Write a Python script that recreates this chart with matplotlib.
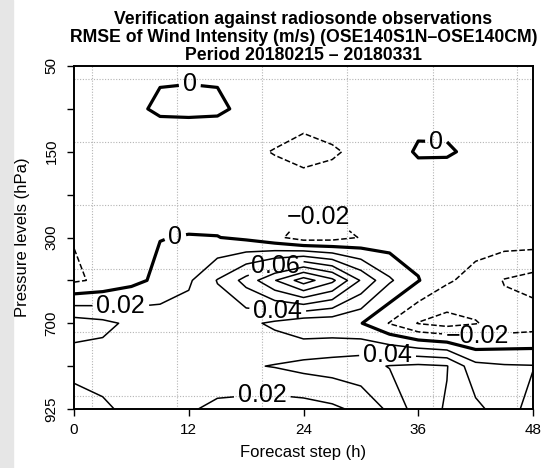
import numpy as np
import matplotlib
matplotlib.use('Agg')
import matplotlib.pyplot as plt

plt.rcParams['font.family'] = ['Liberation Sans', 'DejaVu Sans']

# forecast steps (h) and pressure levels (hPa), top to bottom
steps = list(range(0, 49, 3))
levels_hpa = [50, 100, 150, 200, 300, 500, 700, 850, 925]
tick_steps = [0, 12, 24, 36, 48]

# RMSE difference (m/s), one list per pressure level, one value per step
rmse_50 = [-0.004, -0.005, -0.006, -0.003, -0.003, -0.003, -0.006, -0.007, -0.008,
           -0.007, -0.006, -0.006, -0.005, -0.005, -0.004, -0.004, -0.003]
rmse_100 = [-0.004, -0.004, -0.004, 0.003, 0.004, 0.003, -0.004, -0.008, -0.012,
            -0.01, -0.008, -0.007, -0.006, -0.005, -0.005, -0.004, -0.004]
rmse_150 = [-0.006, -0.007, -0.009, -0.014, -0.016, -0.015, -0.016, -0.021, -0.026,
            -0.022, -0.016, -0.008, 0.002, 0.0015, -0.003, -0.004, -0.004]
rmse_200 = [-0.01, -0.008, -0.005, -0.005, -0.012, -0.012, -0.008, -0.009, -0.01,
            -0.011, -0.009, -0.009, -0.012, -0.01, -0.007, -0.006, -0.006]
rmse_300 = [-0.019, -0.012, -0.006, -0.0005, 0.001, 0.0005, -0.004, -0.015, -0.03,
            -0.028, -0.019, -0.013, -0.009, -0.009, -0.01, -0.01, -0.0095]
rmse_500 = [-0.023, -0.016, -0.006, 0.005, 0.017, 0.041, 0.067, 0.099, 0.13,
            0.105, 0.058, 0.023, 0.001, -0.017, -0.028, -0.041, -0.047]
rmse_700 = [0.05, 0.045, 0.036, 0.032, 0.03, 0.028, 0.025, 0.016, 0.005,
            0.005, 0.001, -0.021, -0.041, -0.048, -0.041, -0.033, -0.03]
rmse_850 = [0.028, 0.03, 0.031, 0.031, 0.03, 0.032, 0.038, 0.041, 0.046,
            0.049, 0.053, 0.061, 0.064, 0.061, 0.026, 0.022, 0.021]
rmse_925 = [0.008, 0.016, 0.026, 0.028, 0.022, 0.016, 0.012, 0.01, 0.011,
            0.016, 0.025, 0.044, 0.07, 0.058, 0.045, 0.03, 0.012]

contour_levels = [-0.04, -0.02, 0.0, 0.02, 0.04, 0.06, 0.08, 0.10, 0.12]

# where the contour labels sit (hour, level index), per contour level
label_spots = {
    0.0: [(10.6, 4.0), (12.1, 0.45), (37.9, 1.5)],
    0.02: [(4.9, 5.6), (19.7, 7.8)],
    0.04: [(21.3, 5.7), (32.8, 6.9)],
    0.06: [(21.1, 4.7)],
    -0.02: [(25.5, 3.7), (42.2, 6.3)],
}

grid_x = [1.9, 10.8, 19.7, 28.6, 37.5, 46.3]
grid_y = [0.3, 1.77, 3.24, 4.73, 6.2, 7.69]


def fmt(v):
    if abs(v) < 1e-9:
        return '0'
    return ('%.2f' % v).replace('-', '\u2212')


fig = plt.figure(figsize=(5.43, 4.68), dpi=100)
fig.patches.append(plt.Rectangle((0, 0), 13 / 543, 1, transform=fig.transFigure,
                                 color='#e6e6e6', zorder=0))
ax = fig.add_axes([74 / 543, 59 / 468, 459 / 543, 343 / 468])
ax.set_xlim(0, 48)
ax.set_ylim(8, 0)

for gx in grid_x:
    ax.axvline(gx, color='#b4b4b4', lw=0.8, ls=(0, (1, 1.5)), zorder=1)
for gy in grid_y:
    ax.axhline(gy, color='#b4b4b4', lw=0.8, ls=(0, (1, 1.5)), zorder=1)

Z = np.array([rmse_50, rmse_100, rmse_150, rmse_200, rmse_300,
              rmse_500, rmse_700, rmse_850, rmse_925])
X, Y = np.meshgrid(steps, np.arange(len(levels_hpa)))

# one contour set per level so each label lands on its own line
for lev in contour_levels:
    cs = ax.contour(X, Y, Z, levels=[lev], colors='k',
                    linewidths=2.3 if lev == 0 else 1.1,
                    linestyles='--' if lev < 0 else '-', zorder=2)
    spots = [s for k, v in label_spots.items() if abs(k - lev) < 1e-9 for s in v]
    if spots:
        ax.clabel(cs, manual=spots, fmt=fmt, fontsize=18,
                  inline=True, inline_spacing=4)
        for t in cs.labelTexts:
            t.set_rotation(0)

ax.set_xticks(tick_steps)
ax.set_yticks(range(len(levels_hpa)))
ax.set_yticklabels([str(p) if i % 2 == 0 else '' for i, p in enumerate(levels_hpa)],
                   rotation=90, va='center')
ax.tick_params(direction='out', length=5, width=1, labelsize=11)
ax.tick_params(axis='x', pad=5)
ax.tick_params(axis='y', pad=6)
for s in ax.spines.values():
    s.set_linewidth(1.4)

cx = (74 + 533) / 2 / 543
fig.text(cx, 1 - 19 / 468, 'Verification against radiosonde observations',
         ha='center', va='center', fontsize=12.7, fontweight='bold')
fig.text(cx, 1 - 37 / 468, 'RMSE of Wind Intensity (m/s) (OSE140S1N\u2013OSE140CM)',
         ha='center', va='center', fontsize=12.7, fontweight='bold')
fig.text(cx, 1 - 55 / 468, 'Period 20180215 \u2013 20180331',
         ha='center', va='center', fontsize=12.7, fontweight='bold')
fig.text(cx, 1 - 452 / 468, 'Forecast step (h)', ha='center', va='center', fontsize=12)
fig.text(23 / 543, 1 - 237 / 468, 'Pressure levels (hPa)', ha='center', va='center',
         rotation=90, fontsize=12)

fig.savefig('out.png', dpi=100)
